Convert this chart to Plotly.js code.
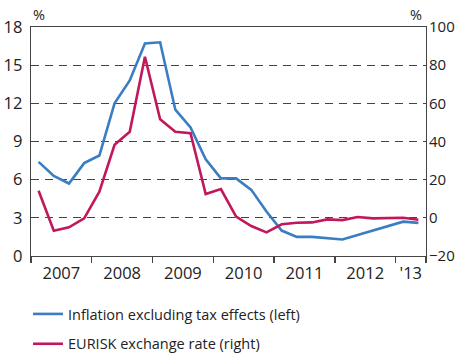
<!DOCTYPE html>
<html><head><meta charset="utf-8">
<script src="https://cdn.plot.ly/plotly-3.0.1.min.js"></script>
<style>html,body{margin:0;padding:0;background:#fff}#c{width:457px;height:353px}</style>
</head><body><div id="c"></div>
<script>
const years = [2007, 2008, 2009, 2010, 2011, 2012, 2013];
const yearLabels = ['2007', '2008', '2009', '2010', '2011', '2012', "'13"];
const quarters = ['2007Q1','2007Q2','2007Q3','2007Q4','2008Q1','2008Q2','2008Q3','2008Q4',
  '2009Q1','2009Q2','2009Q3','2009Q4','2010Q1','2010Q2','2010Q3','2010Q4',
  '2011Q1','2011Q2','2011Q3','2011Q4','2012Q1','2012Q2','2012Q3','2012Q4','2013Q1','2013Q2'];
const inflation = [7.4, 6.3, 5.7, 7.3, 7.9, 12.0, 13.8, 16.7, 16.8, 11.5, 10.1, 7.6, 6.1, 6.1, 5.2, 3.5,
  2.0, 1.5, 1.5, 1.4, 1.3, 1.65, 2.0, 2.35, 2.7, 2.6];
const eurisk = [14.2, -6.8, -5.0, -0.3, 13.7, 38.3, 45.1, 84.4, 51.6, 45.1, 44.3, 12.5, 15.1, 0.6, -4.3, -7.6,
  -3.4, -2.6, -2.4, -0.8, -1.2, 0.4, -0.3, -0.3, 0.05, -1.0];

// quarter label -> mid-quarter position on a numeric year axis
const xq = quarters.map(q => +q.slice(0,4) + (+q.slice(5) - 0.5) / 4);
const xEnd = 2013.5;
const font = {family: 'Open Sans, sans-serif', size: 16.5, color: '#222'};
const rfont = {family: 'Open Sans, sans-serif', size: 15, color: '#222'};
const lfont = {family: 'Open Sans, sans-serif', size: 14.5, color: '#222'};

const traces = [
  {x: xq, y: inflation, type: 'scatter', mode: 'lines', name: 'Inflation excluding tax effects (left)',
   line: {color: '#3a7dc2', width: 2.6}, yaxis: 'y', legendgroup: 'a'},
  {x: xq, y: eurisk, type: 'scatter', mode: 'lines', name: 'EURISK exchange rate (right)',
   line: {color: '#c2185b', width: 2.6}, yaxis: 'y2', legendgroup: 'b'}
];

const layout = {
  width: 457, height: 353,
  margin: {l: 31, r: 31, t: 27, b: 97, autoexpand: false},
  paper_bgcolor: '#fff', plot_bgcolor: '#fff',
  font: font,
  showlegend: true,
  legend: {orientation: 'v', xref: 'container', yref: 'container', x: 28 / 457, xanchor: 'left',
    y: 1 - 298 / 353, yanchor: 'top', font: lfont, itemwidth: 30, tracegroupgap: 8},
  xaxis: {
    range: [years[0], xEnd], showgrid: false, zeroline: false,
    tickmode: 'array', tickvals: years.map(y => Math.min(y + 0.5, (y + xEnd) / 2)), ticktext: yearLabels,
    ticks: '', ticklen: 0, tickfont: font, ticklabelstandoff: 2,
    showline: true, linecolor: '#444', linewidth: 1.3, mirror: true,
    minor: {tickmode: 'array', tickvals: years.concat([xEnd]), ticks: 'outside', ticklen: 6, tickcolor: '#444', tickwidth: 1.3, showgrid: false}
  },
  yaxis: {
    range: [0, 18], tickmode: 'linear', tick0: 0, dtick: 3, ticks: '',
    showgrid: true, gridcolor: '#444', gridwidth: 1.3, griddash: '8px,6px',
    zeroline: false, showline: true, linecolor: '#444', linewidth: 1.3, mirror: true,
    tickfont: font, ticklabelstandoff: 4
  },
  yaxis2: {
    range: [-20, 100], tickmode: 'linear', tick0: -20, dtick: 20, ticks: '',
    overlaying: 'y', side: 'right', showgrid: false, zeroline: false, showline: false,
    tickfont: rfont, ticklabelstandoff: 2
  },
  annotations: [
    {text: '%', xref: 'paper', yref: 'paper', x: 0.0, y: 1, xanchor: 'center', yanchor: 'bottom', yshift: 1, xshift: 8, showarrow: false, font: lfont},
    {text: '%', xref: 'paper', yref: 'paper', x: 1.0, y: 1, xanchor: 'center', yanchor: 'bottom', yshift: 1, xshift: -10, showarrow: false, font: lfont}
  ]
};

Plotly.newPlot('c', traces, layout, {displayModeBar: false, staticPlot: true});
</script></body></html>
